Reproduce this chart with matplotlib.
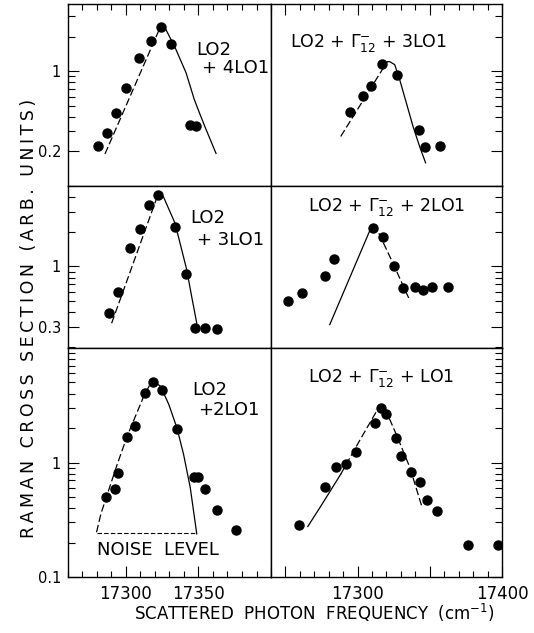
"""
plot.py - six Raman excitation profiles (log scale), 3 rows x 2 columns.
"""

import matplotlib
matplotlib.use("Agg")
import matplotlib.pyplot as plt
from matplotlib.ticker import FixedLocator, FixedFormatter, MultipleLocator, LogLocator, NullFormatter

# ---- data ----
# LO2 + 4LO1 (top left)
x_4lo = [17281, 17287, 17293, 17300, 17309, 17317, 17324, 17331, 17344, 17348]
y_4lo = [0.223, 0.291, 0.429, 0.707, 1.29, 1.84, 2.41, 1.73, 0.339, 0.332]
dash_x_4lo = [17285.5, 17323.9]
dash_y_4lo = [0.19, 2.46]
fit_x_4lo = [17323.9, 17327.6, 17334.5, 17341.4, 17347.1, 17350.6, 17355.2, 17362.1]
fit_y_4lo = [2.46, 2.30, 1.54, 0.97, 0.567, 0.435, 0.311, 0.192]

# LO2 + G12 + 3LO1 (top right)
x_g3lo = [17294.7, 17303.4, 17309.2, 17316.8, 17327.4, 17342.3, 17346.4, 17357.4]
y_g3lo = [0.44, 0.611, 0.736, 1.15, 0.923, 0.309, 0.218, 0.221]
dash_x_g3lo = [17288.3, 17320.5]
dash_y_g3lo = [0.27, 1.21]
fit_x_g3lo = [17320.5, 17322.3, 17325.7, 17329.2, 17333.8, 17338.4, 17343.0, 17347.1]
fit_y_g3lo = [1.21, 1.21, 1.14, 0.84, 0.527, 0.33, 0.22, 0.159]

# LO2 + 3LO1 (middle left)
x_3lo = [17288.1, 17294.7, 17303.0, 17309.7, 17315.7, 17321.9, 17334.0, 17341.6, 17347.8, 17354.7, 17362.6]
y_3lo = [0.393, 0.606, 1.46, 2.13, 3.44, 4.18, 2.20, 0.859, 0.293, 0.293, 0.289]
dash_x_3lo = [17290.1, 17322.3]
dash_y_3lo = [0.322, 4.29]
fit_x_3lo = [17322.3, 17325.7, 17333.8, 17341.9, 17345.3, 17348.8]
fit_y_3lo = [4.29, 4.06, 2.38, 0.936, 0.548, 0.322]

# LO2 + G12 + 2LO1 (middle right)
x_g2lo = [17251.5, 17261.6, 17277.7, 17283.4, 17310.6, 17317.4, 17325.3, 17331.5, 17339.8, 17345.0, 17351.5, 17362.6]
y_g2lo = [0.506, 0.594, 0.83, 1.17, 2.16, 1.80, 1.01, 0.653, 0.662, 0.627, 0.662, 0.666]
fit_x_g2lo = [17280.7, 17308.3]
fit_y_g2lo = [0.313, 2.03]
dash_x_g2lo = [17308.3, 17314.0, 17324.3, 17335.9]
dash_y_g2lo = [2.03, 2.03, 1.08, 0.516]

# LO2 + 2LO1 (bottom left)
x_2lo = [17286.3, 17292.5, 17294.5, 17300.5, 17306.2, 17312.8, 17318.5, 17324.7,
         17335.1, 17346.6, 17350.0, 17354.3, 17362.5, 17375.8]
y_2lo = [0.500, 0.582, 0.802, 1.67, 2.08, 4.04, 5.10, 4.29,
         1.95, 0.751, 0.747, 0.588, 0.386, 0.258]
dash_x_2lo = [17279.7, 17282.7, 17287.2, 17294.0, 17300.9, 17306.6, 17312.3, 17318.0]
dash_y_2lo = [0.246, 0.356, 0.531, 0.968, 1.71, 2.55, 3.80, 5.2]
fit_x_2lo = [17318.0, 17323.8, 17329.5, 17335.1, 17339.7, 17344.3, 17348.8]
fit_y_2lo = [5.2, 4.64, 3.22, 2.01, 1.18, 0.606, 0.238]
noise_x = [17280, 17349]
noise_level = 0.241

# LO2 + G12 + LO1 (bottom right)
x_g1lo = [17259.7, 17277.1, 17285.3, 17291.8, 17299.1, 17311.7, 17315.9, 17319.8,
          17326.4, 17330.3, 17336.9, 17343.1, 17348.0, 17355.0, 17376.2, 17397.4]
y_g1lo = [0.282, 0.606, 0.905, 0.980, 1.24, 2.20, 2.97, 2.67,
          1.65, 1.15, 0.819, 0.670, 0.467, 0.380, 0.191, 0.189]
fit_x_g1lo = [17265.5, 17275.5, 17288.3]
fit_y_g1lo = [0.276, 0.435, 0.79]
dash_x_g1lo = [17288.3, 17301.2, 17315.2, 17318.7, 17326.8, 17336.2, 17344.3]
dash_y_g1lo = [0.79, 1.54, 3.11, 3.01, 1.76, 0.905, 0.42]

row_ylims = [(0.1, 3.85), (0.196, 5.0), (0.1, 10)]
row_yticks = [[0.2, 1], [0.3, 1], [0.1, 1]]
row_yticklabels = [["0.2", "1"], ["0.3", "1"], ["0.1", "1"]]
col_xlims = [(17260, 17400), (17240, 17400)]
col_xticks = [[17300, 17350], [17300, 17400]]

plt.rcParams["font.family"] = ["DejaVu Sans"]
plt.rcParams["mathtext.fontset"] = "dejavusans"

fig = plt.figure(figsize=(5.34, 6.33), dpi=100)
col_pos = [(0.1273, 0.3802), (0.5075, 0.4325)]
row_pos = [(0.7062, 0.2875), (0.4502, 0.2560), (0.0885, 0.3617)]

DASH = (0, (6, 2.5))
mk = dict(marker="o", ms=6.5, color="black", ls="none")
ln = dict(color="black", lw=0.9)

panels = [
    [(x_4lo, y_4lo, [(fit_x_4lo, fit_y_4lo, "-"), (dash_x_4lo, dash_y_4lo, DASH)]),
     (x_g3lo, y_g3lo, [(fit_x_g3lo, fit_y_g3lo, "-"), (dash_x_g3lo, dash_y_g3lo, DASH)])],
    [(x_3lo, y_3lo, [(fit_x_3lo, fit_y_3lo, "-"), (dash_x_3lo, dash_y_3lo, DASH)]),
     (x_g2lo, y_g2lo, [(fit_x_g2lo, fit_y_g2lo, "-"), (dash_x_g2lo, dash_y_g2lo, DASH)])],
    [(x_2lo, y_2lo, [(fit_x_2lo, fit_y_2lo, "-"), (dash_x_2lo, dash_y_2lo, DASH)]),
     (x_g1lo, y_g1lo, [(fit_x_g1lo, fit_y_g1lo, "-"), (dash_x_g1lo, dash_y_g1lo, DASH)])],
]

axes = [[None, None], [None, None], [None, None]]
for r in range(3):
    for c in range(2):
        ax = fig.add_axes([col_pos[c][0], row_pos[r][0], col_pos[c][1], row_pos[r][1]])
        axes[r][c] = ax
        xs, ys, curves = panels[r][c]
        for cx, cy, style in curves:
            ax.plot(cx, cy, ls=style, **ln)
        ax.plot(xs, ys, **mk)
        ax.set_yscale("log")
        ax.set_xlim(*col_xlims[c])
        ax.set_ylim(*row_ylims[r])
        for s in ax.spines.values():
            s.set_linewidth(1.0)

        # y ticks: left column on the left, right column on the right
        ax.yaxis.set_major_locator(FixedLocator(row_yticks[r]))
        ax.yaxis.set_minor_locator(LogLocator(base=10, subs=range(2, 10)))
        ax.yaxis.set_minor_formatter(NullFormatter())
        if c == 0:
            ax.yaxis.set_major_formatter(FixedFormatter(row_yticklabels[r]))
            ax.tick_params(axis="y", which="both", direction="in", left=True, right=False,
                           labelleft=True, labelsize=10.5, pad=5)
        else:
            ax.tick_params(axis="y", which="both", direction="in", left=False, right=True,
                           labelleft=False, labelright=False)
        ax.tick_params(axis="y", which="major", length=8, width=0.8)
        ax.tick_params(axis="y", which="minor", length=5, width=0.8)

        # x ticks: top row on top, bottom row at the bottom
        ax.xaxis.set_major_locator(MultipleLocator(50))
        ax.xaxis.set_minor_locator(MultipleLocator(10))
        ax.xaxis.set_minor_formatter(NullFormatter())
        ax.tick_params(axis="x", which="both", direction="in",
                       top=(r == 0), bottom=(r == 2), labeltop=False, labelbottom=(r == 2),
                       labelsize=12, pad=6)
        ax.tick_params(axis="x", which="major", length=8, width=0.8)
        ax.tick_params(axis="x", which="minor", length=4, width=0.8)
        if r == 2:
            labels = [str(t) if t in col_xticks[c] else "" for t in range(17000, 17500, 50)]
            ax.xaxis.set_major_locator(FixedLocator(list(range(17000, 17500, 50))))
            ax.xaxis.set_major_formatter(FixedFormatter(labels))

# panel labels
axes[0][0].text(0.63, 0.747, "LO2", fontsize=13, va="center", transform=axes[0][0].transAxes)
axes[0][0].text(0.66, 0.648, "+ 4LO1", fontsize=13, va="center", transform=axes[0][0].transAxes)
axes[1][0].text(0.60, 0.80, "LO2", fontsize=13, va="center", transform=axes[1][0].transAxes)
axes[1][0].text(0.635, 0.667, "+ 3LO1", fontsize=13, va="center", transform=axes[1][0].transAxes)
axes[2][0].text(0.61, 0.817, "LO2", fontsize=13, va="center", transform=axes[2][0].transAxes)
axes[2][0].text(0.64, 0.729, "+2LO1", fontsize=13, va="center", transform=axes[2][0].transAxes)

axes[0][1].text(0.42, 0.786, r"LO2 + $\Gamma_{12}^{-}$ + 3LO1", fontsize=12.5, ha="center",
                va="center", transform=axes[0][1].transAxes)
axes[1][1].text(0.50, 0.872, r"LO2 + $\Gamma_{12}^{-}$ + 2LO1", fontsize=12.5, ha="center",
                va="center", transform=axes[1][1].transAxes)
axes[2][1].text(0.475, 0.868, r"LO2 + $\Gamma_{12}^{-}$ + LO1", fontsize=12.5, ha="center",
                va="center", transform=axes[2][1].transAxes)

# noise level marker
axes[2][0].plot(noise_x, [noise_level, noise_level], color="black", lw=0.8, ls=(0, (4, 2)))
axes[2][0].text(noise_x[0], noise_level * 0.72, "NOISE  LEVEL", fontsize=13, va="center")

# wide letter spacing as in the hand-lettered original
ylab = "\u2009".join("RAMAN CROSS SECTION (ARB. UNITS)")
fig.text(0.055, 0.497, ylab, rotation=90, fontsize=12.5, ha="center", va="center")
fig.text(0.588, 0.032, r"SCATTERED  PHOTON  FREQUENCY  (cm$^{-1}$)",
         fontsize=12, ha="center", va="center")

fig.savefig("out.png", dpi=100)
